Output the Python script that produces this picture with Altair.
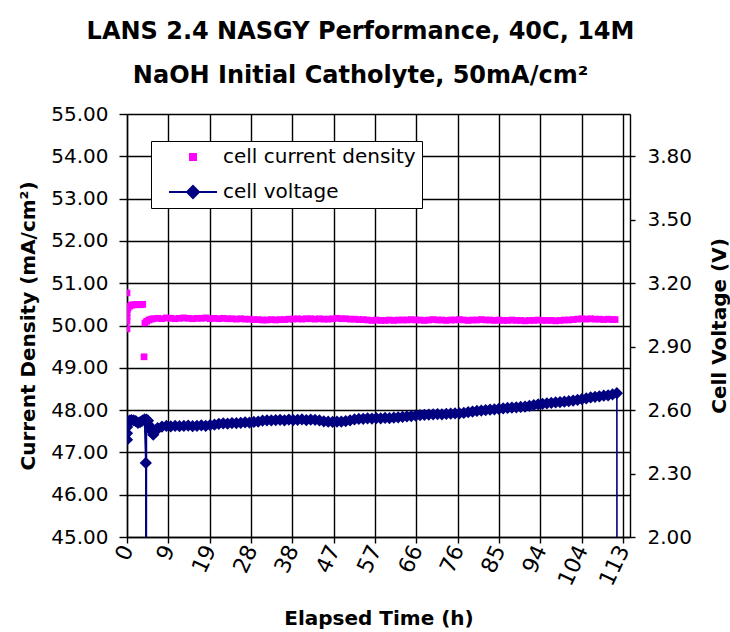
import json
import altair as alt
import pandas as pd

# ---------------- text ----------------
TITLE = ["LANS 2.4 NASGY Performance, 40C, 14M", "NaOH Initial Catholyte, 50mA/cm²"]
X_TITLE = "Elapsed Time (h)"
Y_LEFT_TITLE = "Current Density (mA/cm²)"
Y_RIGHT_TITLE = "Cell Voltage (V)"
SERIES = ["cell current density", "cell voltage"]
COLORS = ["#FF00FF", "#000080"]

# ---------------- axes ----------------
x_tick_values = [0, 9.45, 18.9, 28.35, 37.8, 47.25, 56.7, 66.15, 75.6, 85.05, 94.5, 103.95, 113.4]
x_tick_labels = ["0", "9", "19", "28", "38", "47", "57", "66", "76", "85", "94", "104", "113"]
y_left_ticks = [45, 46, 47, 48, 49, 50, 51, 52, 53, 54, 55]
y_right_ticks = [2.0, 2.3, 2.6, 2.9, 3.2, 3.5, 3.8]

# ---------------- current density (mA/cm2) ----------------
cd_time_early = [0.0, 0.0, 0.0, 0.0, 0.0, 0.1, 0.3, 0.6, 1.0, 1.4, 1.8, 2.2, 2.6, 3.0, 3.3, 3.6,
                 3.9, 4.1, 4.5, 5.0, 5.5, 6.0]
cd_value_early = [50.77, 49.92, 50.10, 50.20, 50.30, 50.38, 50.43, 50.46, 50.48, 50.49, 50.49, 50.50,
                  50.50, 50.49, 50.50, 50.50,
                  49.26, 50.06, 50.10, 50.13, 50.15, 50.16]
cd_time_hourly = [7, 8, 9, 10, 11, 12, 13, 14, 15, 16, 17, 18, 19, 20, 21, 22, 23, 24, 25, 26, 27, 28, 29,
                  30, 31, 32, 33, 34, 35, 36, 37,
                  38, 39, 40, 41, 42, 43, 44, 45, 46, 47, 48, 49, 50, 51, 52, 53, 54, 55,
                  56, 57, 58, 59, 60, 61, 62,
                  63, 64, 65, 66, 67, 68, 69, 70, 71, 72, 73, 74, 75, 76, 77, 78, 79, 80, 81, 82, 83, 84, 85,
                  86, 87, 88, 89, 90, 91, 92, 93, 94, 95, 96, 97, 98, 99, 100, 101, 102,
                  103, 104, 105, 106, 107, 108, 109, 110, 111, 111.6]
cd_value_hourly = [50.17, 50.16, 50.18, 50.17, 50.16, 50.17, 50.18, 50.17, 50.16, 50.17, 50.17, 50.18,
                   50.16, 50.17, 50.16, 50.17, 50.16, 50.16, 50.15, 50.16, 50.15, 50.15, 50.14,
                   50.14, 50.13, 50.13, 50.14, 50.13, 50.14, 50.14, 50.15,
                   50.15, 50.16, 50.15, 50.16, 50.16, 50.15, 50.16, 50.15, 50.15, 50.16, 50.17, 50.16,
                   50.16, 50.15, 50.15, 50.14, 50.14, 50.13,
                   50.12, 50.13, 50.12, 50.12, 50.13, 50.12, 50.13,
                   50.13, 50.13, 50.14, 50.13, 50.13, 50.12, 50.13, 50.14, 50.13, 50.13, 50.12, 50.13,
                   50.13, 50.14, 50.13, 50.12, 50.13, 50.13, 50.14, 50.13, 50.13, 50.12, 50.13,
                   50.12, 50.12, 50.13, 50.12, 50.12, 50.11, 50.12, 50.12, 50.13, 50.12, 50.12, 50.12,
                   50.11, 50.12, 50.13, 50.13, 50.14,
                   50.15, 50.16, 50.15, 50.16, 50.15, 50.15, 50.14, 50.15, 50.14, 50.14]

# ---------------- cell voltage (V) ----------------
v_time = [0.0, 0.0, 0.02, 0.1, 0.3, 0.6, 1.0, 1.5, 2.0, 2.5, 3.0, 3.5, 4.0, 4.3, 4.35, 4.45, 4.8, 5.2,
          5.6, 6.0, 6.5, 7.0,
          8, 9, 10, 11, 12, 13, 14, 15, 16, 17, 18, 19, 20,
          21, 22, 23, 24, 25, 26, 27, 28, 29, 30,
          31, 32, 33, 34, 35, 36, 37, 38, 39, 40, 41, 42, 43, 44,
          45, 46, 47, 48, 49, 50, 51,
          52, 53, 54, 55, 56, 57, 58, 59, 60, 61, 62, 63,
          64, 65, 66, 67, 68, 69, 70, 71, 72, 73, 74, 75, 76, 77,
          78, 79, 80, 81, 82, 83, 84, 85, 86, 87, 88, 89, 90, 91,
          92, 93, 94, 95, 96, 97, 98, 99, 100, 101, 102, 103,
          104, 105, 106, 107, 108, 109, 110, 111, 112.0, 112.05]
v_value = [2.46, 2.49, 2.52, 2.535, 2.545, 2.55, 2.553, 2.552, 2.548, 2.54, 2.543, 2.55, 2.556, 2.35,
           0.0, 2.555, 2.55, 2.525, 2.50, 2.484, 2.50, 2.515,
           2.522, 2.525, 2.523, 2.526, 2.524, 2.525, 2.527, 2.524, 2.526, 2.528, 2.526, 2.529, 2.531,
           2.535, 2.537, 2.536, 2.539, 2.538, 2.540, 2.542, 2.541, 2.544, 2.546,
           2.550, 2.552, 2.551, 2.553, 2.554, 2.552, 2.555, 2.553, 2.554, 2.556, 2.553, 2.555, 2.554, 2.551,
           2.547, 2.545, 2.544, 2.546, 2.545, 2.548, 2.552,
           2.556, 2.558, 2.559, 2.561, 2.560, 2.562, 2.561, 2.563, 2.562, 2.564, 2.566, 2.568,
           2.570, 2.572, 2.574, 2.576, 2.578, 2.579, 2.580, 2.581, 2.580, 2.582, 2.583, 2.584, 2.585, 2.587,
           2.590, 2.593, 2.596, 2.598, 2.600, 2.602, 2.604, 2.606, 2.608, 2.610, 2.612, 2.613, 2.615, 2.617,
           2.620, 2.624, 2.627, 2.630, 2.632, 2.634, 2.636, 2.638, 2.640, 2.642, 2.645, 2.648,
           2.652, 2.656, 2.660, 2.663, 2.665, 2.668, 2.670, 2.674, 2.680, 0.0]

FONT = "DejaVu Sans"

cd_df = pd.DataFrame({"t": cd_time_early + cd_time_hourly, "cd": cd_value_early + cd_value_hourly})
v_df = pd.DataFrame({"t": v_time, "v": v_value})
v_df["i"] = range(len(v_df))
legend_df = pd.DataFrame({"t": [0.0, 0.0], "cd": [50.0, 50.0], "series": SERIES})

label_expr = f"{json.dumps(x_tick_labels)}[indexof({json.dumps(x_tick_values)}, datum.value)]"

x_axis = alt.Axis(values=x_tick_values, labelExpr=label_expr, grid=True, gridColor="black", gridWidth=1.4,
                  tickSize=6, labelAngle=295, labelFontSize=22, labelPadding=3,
                  title=X_TITLE, titleFontSize=20, titleFontWeight="bold", titlePadding=20)
x_enc = alt.X("t:Q", scale=alt.Scale(domain=[0, 115], nice=False, zero=False), axis=x_axis)

left_axis = alt.Axis(values=y_left_ticks, format=".2f", grid=True, gridColor="black", gridWidth=1.4,
                     tickSize=8, labelPadding=11, labelFontSize=20,
                     title=Y_LEFT_TITLE, titleFontSize=20, titleFontWeight="bold", titlePadding=12)
y_left = alt.Y("cd:Q", scale=alt.Scale(domain=[45, 55], nice=False, zero=False), axis=left_axis)

right_axis = alt.Axis(values=y_right_ticks, format=".2f", grid=False, orient="right",
                      tickSize=5, labelPadding=12, labelFontSize=20,
                      title=Y_RIGHT_TITLE, titleFontSize=20, titleFontWeight="bold",
                      titleAngle=270, titleBaseline="top", titlePadding=18)
y_right = alt.Y("v:Q", scale=alt.Scale(domain=[2.0, 4.0], nice=False, zero=False), axis=right_axis)

square_path = "M-0.5,-0.5H0.5V0.5H-0.5Z"
volt_path = "M-4,0H4M0,-1L1,0L0,1L-1,0Z"

leg = alt.Legend(title=None, orient="none", legendX=24, legendY=27, strokeColor="black",
                 fillColor="white", padding=6, symbolSize=144, symbolStrokeWidth=2,
                 labelFontSize=20, labelFont=FONT, labelColor="black", labelOffset=20,
                 symbolOffset=26, rowPadding=15, labelLimit=400)

pink = alt.Chart(cd_df).mark_point(shape="square", filled=True, size=45, color=COLORS[0],
                                   opacity=1, clip=True).encode(x=x_enc, y=y_left)

legend_layer = alt.Chart(legend_df).transform_filter("false").mark_point(
    filled=True, size=144, strokeWidth=2, opacity=1, clip=True
).encode(
    x=x_enc, y=y_left,
    fill=alt.Fill("series:N", scale=alt.Scale(domain=SERIES, range=COLORS), legend=leg),
    stroke=alt.Stroke("series:N", scale=alt.Scale(domain=SERIES, range=COLORS), legend=leg),
    shape=alt.Shape("series:N", scale=alt.Scale(domain=SERIES, range=[square_path, volt_path]), legend=leg),
)

blue_line = alt.Chart(v_df).mark_line(color=COLORS[1], strokeWidth=1.6, clip=True).encode(
    x=x_enc, y=y_right, order="i:Q")
blue_pts = alt.Chart(v_df).mark_point(shape="diamond", filled=True, size=150, color=COLORS[1],
                                      opacity=1, clip=True).encode(x=x_enc, y=y_right)

chart = alt.layer(
    alt.layer(pink, legend_layer),
    alt.layer(blue_line, blue_pts),
).resolve_scale(y="independent").properties(
    width=503, height=423,
    title=alt.TitleParams(text=TITLE, fontSize=24, fontWeight="bold", font=FONT, lineHeight=44,
                          anchor="middle", dx=-18, offset=16, color="black"),
    autosize=alt.AutoSizeParams(type="none"),
    padding={"left": 127, "top": 114, "right": 100, "bottom": 95},
    background="white",
).configure_view(stroke=None).configure_axis(
    domainColor="black", tickColor="black", labelColor="black", titleColor="black",
    labelFont=FONT, titleFont=FONT, domainWidth=1.4, tickWidth=1.4,
)

chart.save("out.html", embed_options={"renderer": "svg", "actions": False})
